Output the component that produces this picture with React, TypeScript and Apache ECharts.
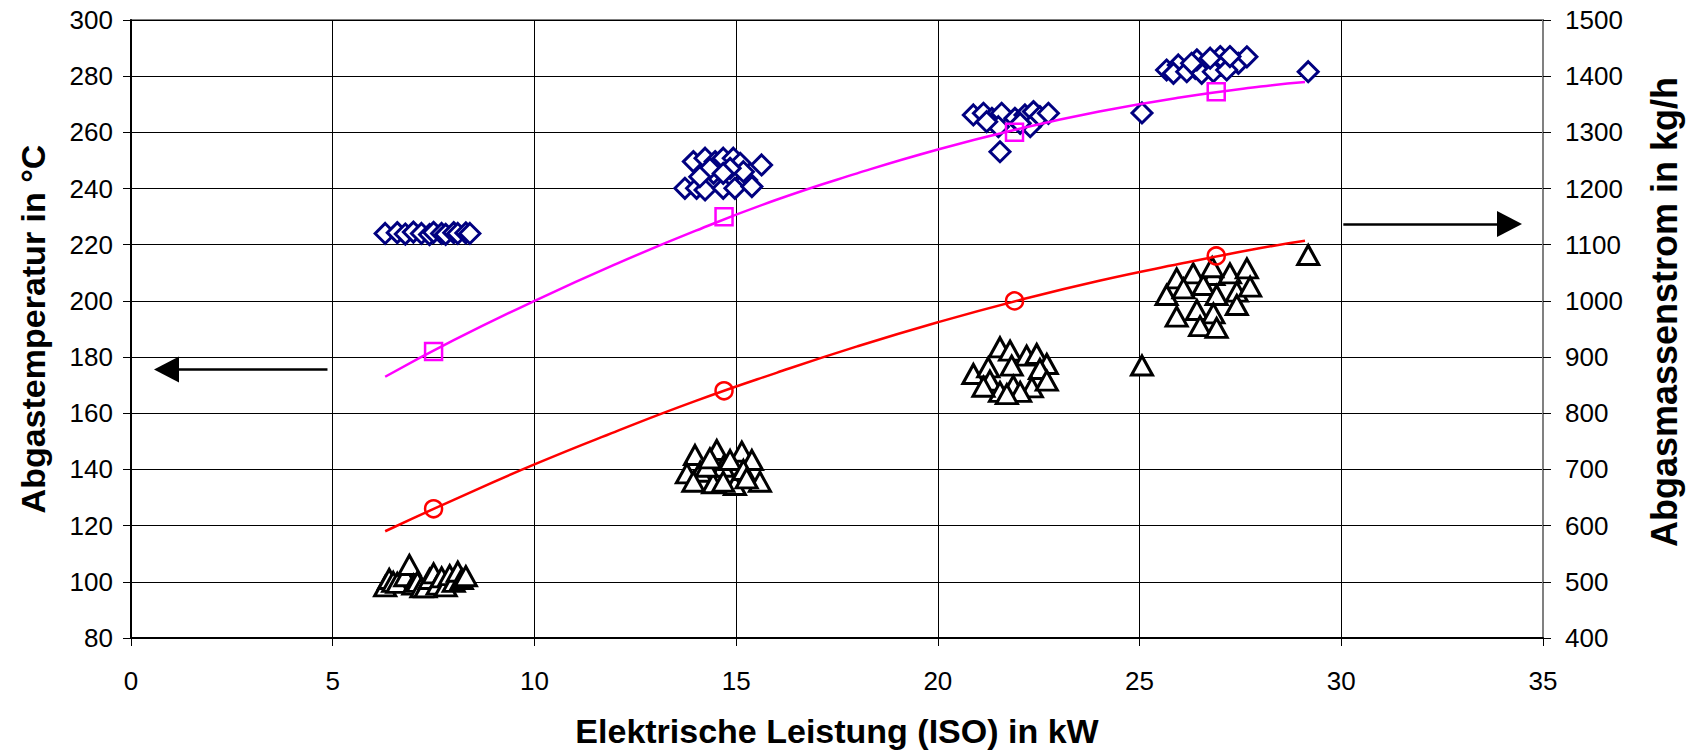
import React, { useEffect, useRef } from "react";
import * as echarts from "echarts";

// Abgastemperatur (left axis, °C) – measured points
const tempPoints: number[][] = [
  [6.3, 224.0], [6.6, 224.3], [6.8, 223.8], [7.0, 224.5], [7.2, 224.0], [7.4, 223.6],
  [7.5, 224.4], [7.7, 224.0], [7.8, 223.7], [8.0, 224.3], [8.1, 224.0], [8.3, 224.2], [8.4, 224.0],
  [13.94, 249.6], [14.23, 250.8], [14.48, 249.6], [14.68, 250.8], [14.93, 250.8], [15.1, 249.0],
  [15.63, 248.4], [13.73, 240.1], [14.02, 240.1], [14.23, 239.5], [14.68, 240.1], [14.97, 240.1],
  [15.26, 243.0], [15.39, 240.7], [14.44, 245.4], [14.35, 247.2], [15.18, 246.0], [14.85, 247.2],
  [14.68, 245.4], [14.1, 244.2],
  [20.88, 266.2], [21.13, 266.8], [21.34, 265.0], [21.58, 266.8], [21.91, 265.0], [22.16, 266.2],
  [22.37, 267.4], [22.53, 265.6], [22.74, 266.8], [21.5, 262.0], [22.29, 262.0], [21.54, 253.1],
  [22.04, 263.2], [21.21, 263.8],
  [25.06, 266.9],
  [25.67, 282.2], [25.96, 284.0], [26.38, 282.8], [26.71, 284.6], [26.95, 284.0], [27.24, 285.2],
  [27.45, 284.6], [27.66, 286.9], [25.84, 281.0], [26.17, 281.6], [26.54, 281.0], [26.83, 281.6],
  [27.16, 282.2], [26.42, 285.8], [27.0, 287.0], [26.75, 286.4], [27.24, 287.0], [26.29, 284.6],
  [29.18, 281.6],
];

// Abgasmassenstrom (right axis, kg/h) – measured points
const massPoints: number[][] = [
  [6.3, 492], [6.4, 505], [6.5, 500], [6.6, 498], [6.8, 510], [6.9, 530], [7.0, 495], [7.1, 500],
  [7.2, 490], [7.3, 490], [7.4, 505], [7.5, 515], [7.6, 495], [7.7, 508], [7.8, 492], [7.9, 512],
  [8.0, 500], [8.1, 518], [8.2, 505], [8.3, 510],
  [13.98, 725.7], [14.52, 734.6], [15.14, 731.6], [15.39, 716.8], [13.78, 693.1], [14.11, 696.0],
  [14.68, 704.9], [15.59, 678.2], [14.97, 672.3], [14.43, 675.4], [14.27, 704.9], [14.85, 716.8],
  [15.18, 699.0], [13.94, 678.2], [14.68, 678.2], [15.26, 684.2], [14.35, 719.8],
  [21.54, 917.4], [21.79, 911.4], [22.2, 902.5], [22.45, 905.5], [22.7, 887.7], [20.88, 869.9],
  [21.25, 881.8], [21.83, 884.7], [22.53, 878.8], [21.29, 858.0], [21.87, 849.1], [22.33, 846.2],
  [22.7, 858.0], [21.54, 838.0], [22.04, 838.0], [21.71, 834.0], [21.13, 847.3],
  [25.06, 885.0],
  [25.92, 1040.2], [26.33, 1049.1], [26.83, 1046.1], [27.24, 1049.1], [27.66, 1058.0], [25.67, 1010.5],
  [26.09, 1022.4], [26.58, 1028.3], [26.91, 1010.5], [27.41, 1016.4], [27.74, 1025.3], [25.92, 971.9],
  [26.42, 983.8], [26.83, 977.9], [27.41, 992.7], [26.5, 955.0], [26.91, 952.0], [26.8, 1060.0],
  [29.18, 1081.7],
];

// Model curves
const tempCurve: number[][] = [
  [6.3, 173], [8, 186], [10, 200], [12, 213], [14, 225], [16, 236], [18, 245.4],
  [20, 253.9], [22, 261.2], [24, 267.4], [26, 272.4], [28, 276.3], [29.1, 277.9],
];
const massCurve: number[][] = [
  [6.3, 590], [8, 646], [10, 709], [12, 767], [14, 822], [16, 872], [18, 919],
  [20, 962], [22, 1001], [24, 1036], [26, 1066], [28, 1094], [29.1, 1107],
];
const tempModelPoints: number[][] = [[7.5, 182], [14.7, 230], [21.9, 260], [26.9, 274.5]];
const massModelPoints: number[][] = [[7.5, 630], [14.7, 840], [21.9, 1000], [26.9, 1080]];

// Arrows (in left-axis units)
const leftArrow: number[][] = [[4.87, 175.6], [0.88, 175.6]];
const rightArrow: number[][] = [[30.05, 227.4], [34.17, 227.4]];

const xTitle = "Elektrische Leistung (ISO) in kW";
const leftTitle = "Abgastemperatur in °C";
const rightTitle = "Abgasmassenstrom in kg/h";

const FONT = "Liberation Sans, Arial, sans-serif";

export default function App() {
  const ref = useRef<HTMLDivElement>(null);
  useEffect(() => {
    if (!ref.current) return;
    const chart = echarts.init(ref.current, undefined, { renderer: "svg" });
    const axisLabel = { fontSize: 26, color: "#000", fontFamily: FONT, formatter: (v: number) => String(v) };
    const nameStyle = { fontSize: 34, fontWeight: "bold" as const, color: "#000", fontFamily: FONT };
    chart.setOption({
      animation: false,
      backgroundColor: "#fff",
      grid: { left: 131, right: 146, top: 20, bottom: 115, show: true, borderColor: "#808080", borderWidth: 2, backgroundColor: "transparent" },
      graphic: [
        {
          type: "text", x: 1664, y: 312, rotation: Math.PI / 2, silent: true,
          style: {
            text: rightTitle, fontSize: 36, fontWeight: "bold", fontFamily: FONT, fill: "#000",
            align: "center", verticalAlign: "middle",
          },
        },
      ],
      xAxis: {
        type: "value", min: 0, max: 35, interval: 5,
        name: xTitle, nameLocation: "middle", nameGap: 76, nameTextStyle: nameStyle,
        axisLine: { show: true, lineStyle: { color: "#000", width: 2 } },
        axisTick: { show: true, length: 8, lineStyle: { color: "#000", width: 1 } },
        axisLabel: { ...axisLabel, margin: 30 },
        splitLine: { show: true, lineStyle: { color: "#000", width: 1 } },
      },
      yAxis: [
        {
          type: "value", min: 80, max: 300, interval: 20, position: "left",
          name: leftTitle, nameLocation: "middle", nameRotate: 90, nameGap: 81, nameTextStyle: nameStyle,
          axisLine: { show: true, onZero: false, lineStyle: { color: "#000", width: 2 } },
          axisTick: { show: true, length: 8, lineStyle: { color: "#000", width: 1 } },
          axisLabel: { ...axisLabel, margin: 18 },
          splitLine: { show: true, lineStyle: { color: "#000", width: 1 } },
        },
        {
          type: "value", min: 400, max: 1500, interval: 100, position: "right",
          axisLine: { show: true, onZero: false, lineStyle: { color: "#808080", width: 2 } },
          axisTick: { show: true, length: 8, lineStyle: { color: "#000", width: 1 } },
          axisLabel: { ...axisLabel, margin: 22 },
          splitLine: { show: false },
        },
      ],
      series: [
        {
          type: "scatter", yAxisIndex: 0, data: tempPoints, symbol: "diamond", symbolSize: [20, 20],
          itemStyle: { color: "#fff", borderColor: "#000080", borderWidth: 3, opacity: 1 }, z: 2,
        },
        {
          type: "scatter", yAxisIndex: 1, data: massPoints, symbol: "triangle", symbolSize: [21, 19],
          itemStyle: { color: "#fff", borderColor: "#000", borderWidth: 3, opacity: 1 }, z: 2,
        },
        {
          type: "line", yAxisIndex: 0, data: tempCurve, smooth: true, showSymbol: false, symbol: "none",
          lineStyle: { color: "#FF00FF", width: 2.5 }, z: 3,
        },
        {
          type: "line", yAxisIndex: 1, data: massCurve, smooth: true, showSymbol: false, symbol: "none",
          lineStyle: { color: "#FF0000", width: 2.5 }, z: 3,
        },
        {
          type: "scatter", yAxisIndex: 0, data: tempModelPoints, symbol: "rect", symbolSize: 17,
          itemStyle: { color: "rgba(255,255,255,0)", borderColor: "#FF00FF", borderWidth: 2.5, opacity: 1 }, z: 4,
        },
        {
          type: "scatter", yAxisIndex: 1, data: massModelPoints, symbol: "circle", symbolSize: 17,
          itemStyle: { color: "rgba(255,255,255,0)", borderColor: "#FF0000", borderWidth: 2.5, opacity: 1 }, z: 4,
        },
        {
          type: "scatter", yAxisIndex: 0, data: [], z: 5,
          markLine: {
            silent: true, animation: false,
            symbol: ["none", "triangle"], symbolSize: [26, 25],
            label: { show: false },
            lineStyle: { color: "#000", width: 2.5, type: "solid" },
            itemStyle: { color: "#000" },
            data: [
              [{ coord: leftArrow[0] }, { coord: leftArrow[1] }],
              [{ coord: rightArrow[0] }, { coord: rightArrow[1] }],
            ],
          },
        },
      ],
    });
    return () => chart.dispose();
  }, []);
  return <div ref={ref} style={{ position: "absolute", left: 0, top: 0, width: 1689, height: 753 }} />;
}
